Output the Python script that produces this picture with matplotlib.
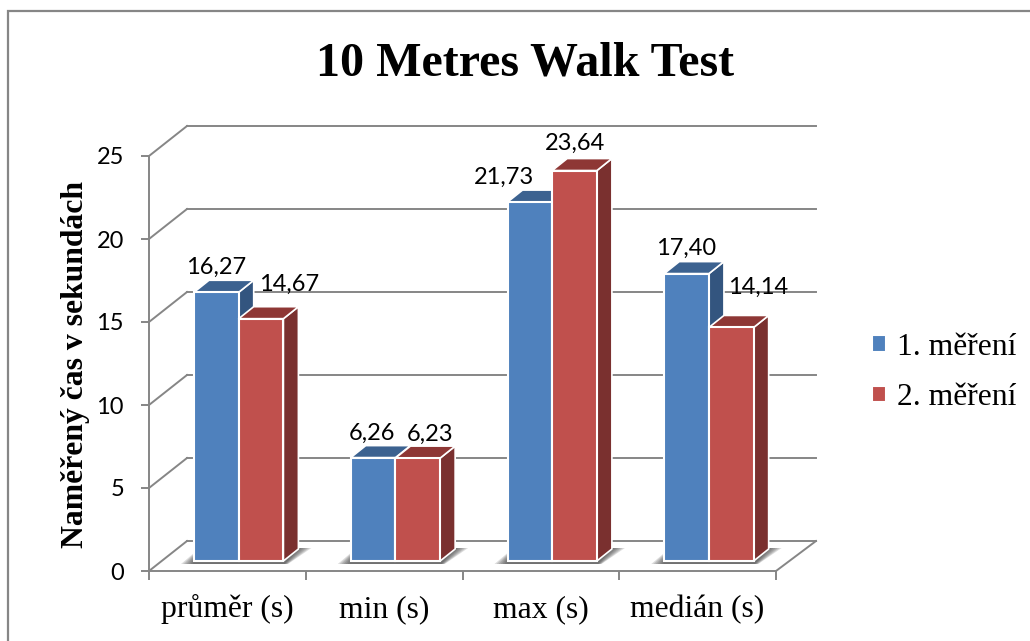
import matplotlib
matplotlib.use("Agg")
import matplotlib.pyplot as plt
from matplotlib.lines import Line2D
from matplotlib.patches import Polygon

CATEGORIES = ["průměr (s)", "min (s)", "max (s)", "medián (s)"]
SERIES_NAMES = ["1. měření", "2. měření"]
MEASURE_1 = [16.27, 6.26, 21.73, 17.40]
MEASURE_2 = [14.67, 6.23, 23.64, 14.14]
Y_TICKS = [0, 5, 10, 15, 20, 25]

TITLE = "10 Metres Walk Test"
Y_LABEL = "Naměřený čas v sekundách"

# Label shifts in pixels from the bar's front top centre
LABEL_SHIFT_1 = [(0, 25), (-1, 24), (-26, 25), (-1, 25)]
LABEL_SHIFT_2 = [(28, 34), (12, 24), (0, 27), (27, 40)]

W, H = 1030, 641
AX_LEFT, AX_RIGHT, AX_TOP, AX_BOTTOM = 149, 776, 156, 571
X_UNIT = (AX_RIGHT - AX_LEFT) / len(CATEGORIES)
Y_UNIT = (AX_BOTTOM - AX_TOP) / Y_TICKS[-1]

# Fake 3D geometry, pixels turned into axis units
WALL_DX = 38 / X_UNIT
WALL_DX_END = 40 / X_UNIT
WALL_DY = 30 / Y_UNIT
BAR_OFFSET = 45 / X_UNIT
BAR_WIDTH = 44.7 / X_UNIT
BAR_DX = 15 / X_UNIT
BAR_DY = 12 / Y_UNIT
BAR_BASE = 10 / Y_UNIT
BAR_SCALE = 0.995

GRID = "#868686"
LINE_W = 1.4
FACES = [
    {"front": "#4F81BD", "side": "#33557F", "top": "#3C6290"},
    {"front": "#C0504D", "side": "#7A302F", "top": "#8E3735"},
]

plt.rcParams["font.family"] = ["Liberation Serif", "DejaVu Serif"]
LABEL_FONT = "Lato"


def draw_walls(ax):
    for tick in Y_TICKS:
        y = tick
        ax.plot([0, WALL_DX], [y, y + WALL_DY], color=GRID, lw=LINE_W,
                clip_on=False, zorder=1)
        ax.plot([WALL_DX, len(CATEGORIES) + WALL_DX_END], [y + WALL_DY, y + WALL_DY],
                color=GRID, lw=LINE_W, clip_on=False, zorder=1)
    # Right edge of the floor
    ax.plot([len(CATEGORIES), len(CATEGORIES) + WALL_DX_END], [0, WALL_DY], color=GRID,
            lw=LINE_W, clip_on=False, zorder=1)


def draw_shadow(ax, x):
    # Soft shadow on the floor, several faint layers on top of each other
    right = x + 2 * BAR_WIDTH
    for i in range(7):
        grow = i * 2.0
        pts = [
            (x - (1 + grow) / X_UNIT, BAR_BASE - 3 / Y_UNIT),
            (right + (1 + grow * 0.3) / X_UNIT, BAR_BASE - 3 / Y_UNIT),
            (right + BAR_DX + (1 + grow) / X_UNIT, BAR_BASE + BAR_DY + 1 / Y_UNIT),
            (right + BAR_DX - 4 / X_UNIT, BAR_BASE + BAR_DY + 1 / Y_UNIT),
            (x, BAR_BASE + (2 + grow * 0.5) / Y_UNIT),
        ]
        ax.add_patch(Polygon(pts, closed=True, facecolor="#444444", edgecolor="none",
                             alpha=0.18, clip_on=False, zorder=2))


def draw_bar(ax, x, value, faces, order):
    top = BAR_BASE + value * BAR_SCALE
    side = [(x + BAR_WIDTH, BAR_BASE), (x + BAR_WIDTH + BAR_DX, BAR_BASE + BAR_DY),
            (x + BAR_WIDTH + BAR_DX, top + BAR_DY), (x + BAR_WIDTH, top)]
    roof = [(x, top), (x + BAR_WIDTH, top),
            (x + BAR_WIDTH + BAR_DX, top + BAR_DY), (x + BAR_DX, top + BAR_DY)]
    ax.add_patch(Polygon(side, closed=True, facecolor=faces["side"], edgecolor="white",
                         lw=1.2, joinstyle="round", clip_on=False, zorder=order))
    ax.add_patch(Polygon(roof, closed=True, facecolor=faces["top"], edgecolor="white",
                         lw=1.2, joinstyle="round", clip_on=False, zorder=order))
    bar = ax.bar(x, value * BAR_SCALE, width=BAR_WIDTH, bottom=BAR_BASE, align="edge",
                 color=faces["front"], edgecolor="white", linewidth=1.5,
                 clip_on=False, zorder=order + 0.1)
    return bar


def main():
    fig = plt.figure(figsize=(W / 100, H / 100), dpi=100, facecolor="white")
    ax = fig.add_axes([AX_LEFT / W, 1 - AX_BOTTOM / H,
                       (AX_RIGHT - AX_LEFT) / W, (AX_BOTTOM - AX_TOP) / H])
    ax.set_xlim(0, len(CATEGORIES))
    ax.set_ylim(0, Y_TICKS[-1])
    ax.patch.set_visible(False)

    draw_walls(ax)

    handles = [None, None]
    for i in range(len(CATEGORIES)):
        x0 = i + BAR_OFFSET
        draw_shadow(ax, x0)
        handles[0] = draw_bar(ax, x0, MEASURE_1[i], FACES[0], 3 + i)
        handles[1] = draw_bar(ax, x0 + BAR_WIDTH, MEASURE_2[i], FACES[1], 3.5 + i)

        # Value labels use a decimal comma
        for offset, values, shifts in ((0, MEASURE_1, LABEL_SHIFT_1), (1, MEASURE_2, LABEL_SHIFT_2)):
            value = values[i]
            ax.annotate(f"{value:.2f}".replace(".", ","),
                        (x0 + (offset + 0.5) * BAR_WIDTH, BAR_BASE + value * BAR_SCALE),
                        xytext=(shifts[i][0] * 0.72, shifts[i][1] * 0.72),
                        textcoords="offset points", ha="center", va="center",
                        fontsize=17, family=LABEL_FONT, color="black",
                        annotation_clip=False, zorder=20)

    # Axes
    for name in ("top", "right"):
        ax.spines[name].set_visible(False)
    for name in ("left", "bottom"):
        ax.spines[name].set_color(GRID)
        ax.spines[name].set_linewidth(LINE_W)
        ax.spines[name].set_zorder(1.5)

    ax.set_yticks(Y_TICKS)
    ax.set_yticklabels([str(t) for t in Y_TICKS], fontsize=17, family=LABEL_FONT)
    ax.tick_params(axis="y", length=6, width=LINE_W, color=GRID, pad=12)

    ax.set_xticks(range(len(CATEGORIES) + 1))
    ax.set_xticklabels([])
    ax.tick_params(axis="x", which="major", length=6.5, width=LINE_W, color=GRID)
    ax.set_xticks([i + 0.5 for i in range(len(CATEGORIES))], minor=True)
    ax.set_xticklabels(CATEGORIES, minor=True, fontsize=22.8, va="baseline")
    ax.tick_params(axis="x", which="minor", length=0, pad=33)

    fig.text(525 / W, 1 - 63 / H, TITLE, ha="center", va="center",
             fontsize=34.6, fontweight="bold")
    fig.text(76 / W, 1 - 365 / H, Y_LABEL, ha="center", va="center", rotation=90,
             fontsize=22.8, fontweight="bold")

    fig.legend([handles[0][0], handles[1][0]], SERIES_NAMES, loc="center left",
               bbox_to_anchor=(872 / W, 1 - 372.5 / H), frameon=False, fontsize=22.8,
               handlelength=0.43, handleheight=0.43, handletextpad=0.36,
               labelspacing=0.68, borderpad=0, borderaxespad=0)

    # Chart frame, only top and left are inside the picture
    fig.add_artist(Line2D([8 / W, 8 / W, 1], [0, 1 - 11 / H, 1 - 11 / H], color=GRID,
                          lw=1.6, transform=fig.transFigure, solid_joinstyle="miter"))

    fig.savefig("out.png", dpi=100)


if __name__ == "__main__":
    main()
